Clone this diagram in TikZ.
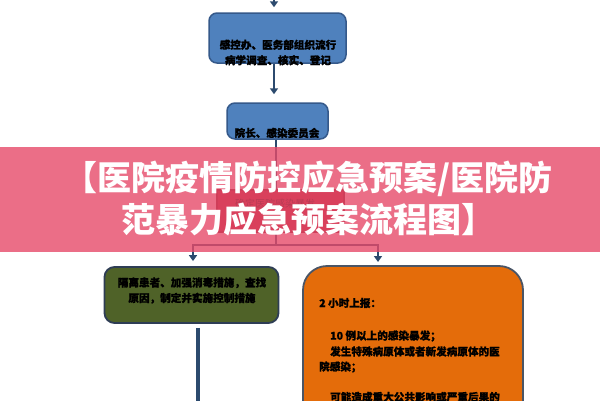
\documentclass[tikz,border=0pt]{standalone}
\usepackage{fontspec}
\setmainfont{Noto Sans CJK SC}
\newfontfamily\boxfont[BoldFeatures={FakeBold=1}]{Noto Sans CJK SC}
\usetikzlibrary{arrows.meta}
\definecolor{navy}{HTML}{2C4A6E}
\definecolor{bluefill}{HTML}{4F81BD}
\definecolor{blueedge}{HTML}{35598A}
\definecolor{greenfill}{HTML}{4F6228}
\definecolor{greenedge}{HTML}{2E3D55}
\definecolor{orangefill}{HTML}{E46C0A}
\definecolor{orangeedge}{HTML}{4A5566}
\definecolor{redfill}{HTML}{A81828}
\definecolor{bannerpink}{HTML}{E64A69}
\tikzset{
  conn/.style={draw=navy, line width=2.5pt},
  arr/.style={conn, -{Triangle[length=6pt,width=8pt]}},
  bluebox/.style={draw=blueedge, fill=bluefill, line width=1.5pt, rounded corners=8pt, inner sep=0pt},
  greenbox/.style={draw=greenedge, fill=greenfill, line width=1.8pt, rounded corners=10pt, inner sep=0pt},
  orangebox/.style={draw=orangeedge, fill=orangefill, line width=1.8pt, rounded corners=24pt, inner sep=0pt},
  redbox/.style={draw=redfill!70!black, fill=redfill, line width=1.2pt, inner sep=0pt},
  boxtext/.style={font=\boxfont\fontsize{10.6}{15.5}\selectfont\bfseries, text=black, inner sep=0pt, align=center},
  lefttext/.style={font=\boxfont\fontsize{10.6}{15}\selectfont\bfseries, text=black, inner sep=0pt, anchor=west},
  titletext/.style={font=\fontsize{34}{42}\selectfont\bfseries, text=white, align=center, inner sep=0pt}
}
\begin{document}
\begin{tikzpicture}[x=1pt,y=-1pt]
\useasboundingbox (0,0) rectangle (600,400);
\fill[white] (0,0) rectangle (600,400);
\begin{scope}
\clip (0,0) rectangle (600,400);
% boxes
\node[bluebox, minimum width=137pt, minimum height=50pt] (b1) at (277.5,38) {};
\node[boxtext] (t1) at (278,52.5) {感控办、医务部组织流行\\病学调查、核实、登记};
\node[bluebox, minimum width=101pt, minimum height=36pt] (b2) at (277.5,121) {};
\node[boxtext] (t2) at (277,133) {院长、感染委员会};
\node[redbox, minimum width=127pt, minimum height=42pt] (rb) at (280.5,211) {};
\node[boxtext, font=\boxfont\fontsize{10}{12}\selectfont] (t3) at (275,204) {确定医院感染暴发};
\node[greenbox, minimum width=174pt, minimum height=56pt] (gb) at (191.5,295) {};
\node[boxtext] (t4) at (192,290.5) {隔离患者、加强消毒措施，查找\\原因，制定并实施控制措施};
\node[orangebox, minimum width=220pt, minimum height=200pt] (ob) at (413,366) {};
\node[lefttext] (o1) at (319,303) {2 小时上报：};
\node[lefttext] (o2) at (330,336) {10 例以上的感染暴发；};
\node[lefttext] (o3) at (330,351.5) {发生特殊病原体或者新发病原体的医};
\node[lefttext] (o4) at (319,367) {院感染；};
\node[lefttext] (o5) at (330,397) {可能造成重大公共影响或严重后果的};
% connectors
\coordinate (topin) at (274,-10);
\coordinate (split) at (276,245);
\coordinate (otop) at (378,266);
\draw[arr, shorten >=5pt] (topin) -- (b1.north -| topin);
\draw[arr, shorten >=8pt] (b1.south -| topin) -- (b2.north -| topin);
\draw[conn] (b2.south -| split) -- (rb.north -| split);
\draw[conn] (rb.south -| split) -- (split);
\draw[arr, shorten >=5pt] (split) -| ([xshift=1.5pt]gb.north);
\draw[arr, shorten >=4pt] (split) -| (otop);
\draw[draw=navy, line width=4pt] ([xshift=6.5pt,yshift=-4pt]gb.south) -- ++(0,90);
% banner
\fill[bannerpink, opacity=0.8] (0,147) rectangle (600,252);
\node[titletext] (title) at (308,199) {【医院疫情防控应急预案/医院防\\范暴力应急预案流程图】};
\end{scope}
\end{tikzpicture}
\end{document}
